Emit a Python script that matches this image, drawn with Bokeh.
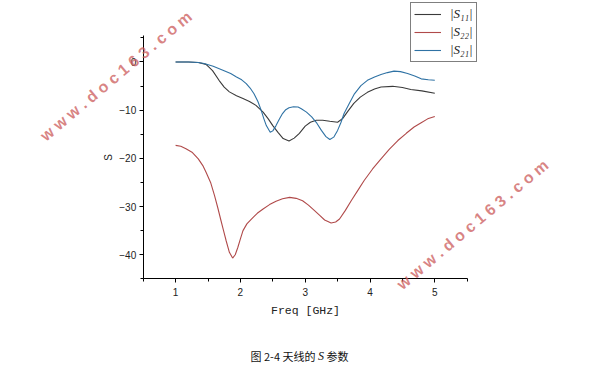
import math
from bokeh.plotting import figure
from bokeh.models import Range1d, SingleIntervalTicker, Legend, LegendItem, Label
from bokeh.embed import file_html
from bokeh.resources import INLINE

# ---- data ----
freq_s11 = [1.0, 1.2, 1.35, 1.47, 1.57, 1.67, 1.75, 1.83, 1.94, 2.04, 2.14, 2.24, 2.35, 2.43,
            2.5, 2.58, 2.66, 2.75, 2.83, 2.91, 3.0, 3.08, 3.17, 3.27, 3.38, 3.5, 3.58, 3.66,
            3.75, 3.85, 3.96, 4.07, 4.17, 4.35, 4.5, 4.63, 4.8, 5.0]
s11 = [0.0, 0.0, -0.1, -0.5, -1.8, -3.8, -5.2, -6.2, -7.0, -7.6, -8.2, -9.0, -10.4, -11.8,
       -13.2, -14.6, -15.9, -16.4, -15.8, -14.8, -13.3, -12.5, -12.1, -12.1, -12.3, -12.5, -11.7, -10.2,
       -8.6, -7.3, -6.3, -5.6, -5.2, -5.05, -5.3, -5.7, -6.0, -6.5]

freq_s21 = [1.0, 1.2, 1.35, 1.44, 1.58, 1.73, 1.85, 1.94, 2.02, 2.09, 2.15, 2.21, 2.27, 2.32,
            2.36, 2.40, 2.46, 2.5, 2.55, 2.60, 2.65, 2.70, 2.75, 2.82, 2.89, 2.94, 3.02, 3.1,
            3.18, 3.25, 3.32, 3.38, 3.44, 3.5, 3.55, 3.6, 3.68, 3.76, 3.86, 3.96, 4.07, 4.17,
            4.27, 4.37, 4.47, 4.58, 4.69, 4.79, 4.9, 5.0]
s21 = [0.0, 0.0, -0.1, -0.3, -0.9, -1.7, -2.4, -3.1, -3.7, -4.5, -5.4, -6.6, -8.2, -10.0,
       -11.7, -13.2, -14.6, -14.3, -13.2, -11.9, -10.7, -9.9, -9.5, -9.3, -9.35, -9.7, -10.4, -11.4,
       -12.7, -14.2, -15.5, -16.1, -15.6, -14.2, -12.6, -10.7, -8.6, -6.6, -4.9, -3.8, -3.1, -2.6,
       -2.2, -1.9, -2.0, -2.4, -2.9, -3.5, -3.7, -3.8]

freq_s22 = [1.0, 1.08, 1.16, 1.26, 1.35, 1.42, 1.47, 1.54, 1.6, 1.65, 1.70, 1.74, 1.78, 1.83,
            1.88, 1.92, 1.96, 2.0, 2.04, 2.1, 2.17, 2.26, 2.35, 2.45, 2.55, 2.65, 2.76, 2.86,
            2.96, 3.05, 3.14, 3.22, 3.30, 3.40, 3.47, 3.53, 3.62, 3.71, 3.81, 3.91, 4.04, 4.17,
            4.30, 4.43, 4.56, 4.68, 4.79, 4.89, 5.0]
s22 = [-17.3, -17.5, -18.0, -18.8, -20.1, -21.5, -22.9, -25.0, -27.7, -30.2, -32.9, -35.0, -37.1, -39.5,
       -40.7, -40.0, -38.5, -36.7, -35.0, -33.6, -32.6, -31.4, -30.5, -29.6, -28.9, -28.4, -28.1, -28.3,
       -28.8, -29.7, -30.8, -31.8, -32.8, -33.4, -33.2, -32.6, -30.8, -28.8, -26.7, -24.6, -22.2, -20.1,
       -18.1, -16.3, -14.8, -13.5, -12.6, -11.8, -11.3]

legend_labels = ["|S\u2081\u2081|", "|S\u2082\u2082|", "|S\u2082\u2081|"]
x_label = "Freq [GHz]"
y_label = "S"
caption_parts = ["图 2-4 天线的", "S", "参数"]
watermark = "w w w . d o c 1 6 3 . c o m"

# axis extents shown in the chart
X_LO, X_HI = 0.5, 5.5
Y_LO, Y_HI = -45.0, 5.5

# ---- layout (pixels) ----
W, H = 615, 376
AX_L, AX_R = 142.7, 466.7        # where the axes run on the canvas
AX_T, AX_B = 35.0, 278.3

kx = (AX_R - AX_L) / (X_HI - X_LO)
ky = (AX_B - AX_T) / (Y_HI - Y_LO)
x_start = X_LO - AX_L / kx
x_end = X_HI + (W - AX_R) / kx
y_end = Y_HI + AX_T / ky
y_start = Y_LO - (H - AX_B) / ky

def dx(px):
    return x_start + px / kx

def dy(py):
    return y_end - py / ky

p = figure(width=W, height=H, output_backend="svg", toolbar_location=None,
           x_range=Range1d(x_start, x_end), y_range=Range1d(y_start, y_end),
           min_border_left=0, min_border_right=0, min_border_top=0, min_border_bottom=0)
p.title.visible = False
p.outline_line_color = None
p.xgrid.visible = False
p.ygrid.visible = False
p.background_fill_color = "white"
p.border_fill_color = "white"

p.xaxis.ticker = SingleIntervalTicker(interval=1, num_minor_ticks=2)
p.yaxis.ticker = SingleIntervalTicker(interval=10, num_minor_ticks=2)
p.xaxis.fixed_location = Y_LO
p.yaxis.fixed_location = X_LO
p.xaxis.bounds = (X_LO, X_HI)
p.yaxis.bounds = (Y_LO, Y_HI)
for ax in (p.xaxis[0], p.yaxis[0]):
    ax.axis_line_color = "black"
    ax.major_tick_line_color = "black"
    ax.minor_tick_line_color = "black"
    ax.major_tick_in = 0
    ax.major_tick_out = 4
    ax.minor_tick_in = 0
    ax.minor_tick_out = 3
    ax.major_label_text_font = "Liberation Sans"
    ax.major_label_text_font_size = "10px"
    ax.major_label_text_color = "#222222"
    ax.axis_label_text_font_style = "normal"
    ax.axis_label_text_color = "#222222"

p.xaxis.major_label_standoff = 5
p.xaxis.axis_label = x_label
p.xaxis.axis_label_text_font = "Liberation Mono"
p.xaxis.axis_label_text_font_size = "11.5px"
p.xaxis.axis_label_standoff = 5
p.yaxis.major_label_standoff = 3

r11 = p.line(freq_s11, s11, line_color="#3a3a3a", line_width=1.1)
r22 = p.line(freq_s22, s22, line_color="#b04a4a", line_width=1.1)
r21 = p.line(freq_s21, s21, line_color="#2f72a4", line_width=1.1)

# y axis title
p.add_layout(Label(x=dx(108), y=dy(157), text=y_label, angle=math.pi / 2, text_align="center",
                   text_baseline="middle", text_font="Liberation Sans", text_font_size="10px",
                   text_color="#222222"))

legend = Legend(items=[LegendItem(label=legend_labels[0], renderers=[r11]),
                       LegendItem(label=legend_labels[1], renderers=[r22]),
                       LegendItem(label=legend_labels[2], renderers=[r21])],
                location=(410, H - 62))
legend.border_line_color = "black"
legend.border_line_width = 1
legend.background_fill_color = "white"
legend.background_fill_alpha = 1
legend.glyph_width = 27
legend.glyph_height = 16
legend.label_height = 16
legend.spacing = 2
legend.padding = 3
legend.margin = 0
legend.label_standoff = 9
legend.label_text_font = "Liberation Serif"
legend.label_text_font_style = "italic"
legend.label_text_font_size = "13px"
legend.label_text_color = "#222222"
p.add_layout(legend)

# watermarks
ang = math.radians(40)
for (wx, wy) in [(115.5, 75.5), (472, 224)]:
    p.add_layout(Label(x=dx(wx), y=dy(wy), text=watermark, angle=ang, text_align="center",
                       text_baseline="middle", text_font="Liberation Sans",
                       text_font_style="bold", text_font_size="16px",
                       text_color="#cc5c5c", text_alpha=0.75))

# caption under the chart
cy = dy(355)
p.add_layout(Label(x=dx(315), y=cy, text=caption_parts[0], text_align="right", text_baseline="middle",
                   text_font="Noto Sans CJK SC", text_font_size="11px", text_color="#111111"))
p.add_layout(Label(x=dx(320.5), y=cy, text=caption_parts[1], text_align="center", text_baseline="middle",
                   text_font="Liberation Serif", text_font_style="italic", text_font_size="12px",
                   text_color="#111111"))
p.add_layout(Label(x=dx(326), y=cy, text=caption_parts[2], text_align="left", text_baseline="middle",
                   text_font="Noto Sans CJK SC", text_font_size="11px", text_color="#111111"))

open("out.html", "w").write(file_html(p, INLINE))
